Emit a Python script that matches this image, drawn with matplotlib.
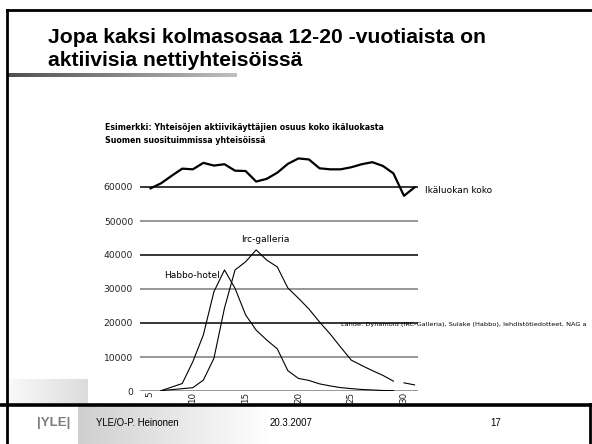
import numpy as np
import matplotlib
matplotlib.use("Agg")
import matplotlib.pyplot as plt
import matplotlib.transforms as mtransforms
from matplotlib.colors import LinearSegmentedColormap

# ages on the x axis
ages_pop = list(range(6, 32))
pop = [59600, 61100, 63300, 65400, 65200, 67100, 66300, 66700, 64800, 64700,
       61600, 62400, 64200, 66800, 68400, 68100, 65500, 65200, 65200, 65800,
       66700, 67300, 66200, 64000, 57400, 59900]

ages_habbo = [7, 9, 10, 11, 12, 13, 14, 15, 16, 17, 18, 19, 20, 21, 22, 23, 24, 25, 26, 27, 28, 29]
habbo = [100, 2200, 8600, 16500, 29200, 35600, 30200, 22400, 17900, 15000, 12400, 6000,
         3700, 3100, 2100, 1500, 1000, 700, 450, 300, 150, 100]

ages_irc = [7, 10, 11, 12, 13, 14, 15, 16, 17, 18, 19, 20, 21, 22, 23, 24, 25, 26, 27, 28, 29]
irc = [100, 970, 3200, 9600, 24400, 35600, 38000, 41500, 38500, 36500, 30300, 27300,
       24100, 20300, 16800, 12900, 9100, 7500, 6000, 4600, 2900]

ages_tail = [30, 31]
tail = [2400, 1800]

yticks = [0, 10000, 20000, 30000, 40000, 50000, 60000]
xticks = [5, 10, 15, 20, 25, 30]

W, H = 592, 444
fig = plt.figure(figsize=(W / 100, H / 100), dpi=100)

# background layer in pixel coordinates
bg = fig.add_axes([0, 0, 1, 1])
bg.set_xlim(0, W)
bg.set_ylim(H, 0)
bg.axis("off")

grad = np.linspace(0, 1, 256).reshape(1, -1)
# footer shading
grey_fade = LinearSegmentedColormap.from_list("fade", ["#cfcfcf", "#ffffff"])
bg.imshow(grad, cmap=grey_fade, extent=(78, 270, 444, 406), aspect="auto")
# faint shading at bottom-left above the footer line
left_fade = LinearSegmentedColormap.from_list("lf", ["#fafafa", "#dcdcdc"])
bg.imshow(grad, cmap=left_fade, extent=(8, 88, 403, 380), aspect="auto")
# gradient bar under the title
bar = LinearSegmentedColormap.from_list("bar", ["#505050", "#c0c0c0"])
bg.imshow(grad, cmap=bar, extent=(7, 237, 77, 73), aspect="auto")

# frame
bg.plot([7, 7], [10, 444], color="black", lw=2)
bg.plot([7, W], [10, 10], color="black", lw=2)
bg.plot([0, W], [404.5, 404.5], color="black", lw=2.6)
bg.plot([590, 590], [404, 444], color="black", lw=2)

# title
bg.text(48, 43, "Jopa kaksi kolmasosaa 12-20 -vuotiaista on", fontsize=15.2,
        fontweight="bold", family="Liberation Sans", va="baseline", ha="left")
bg.text(48, 66.5, "aktiivisia nettiyhteisöissä", fontsize=15.2,
        fontweight="bold", family="Liberation Sans", va="baseline", ha="left")

# chart subtitle
bg.text(105, 127, "Esimerkki: Yhteisöjen aktiivikäyttäjien osuus koko ikäluokasta",
        fontsize=5.65, fontweight="bold", va="center", ha="left")
bg.text(105, 140, "Suomen suosituimmissa yhteisöissä",
        fontsize=5.65, fontweight="bold", va="center", ha="left")

# footer
bg.text(54, 423, "|YLE|", fontsize=9.5, fontweight="bold", color="#7d7d7d",
        family="Liberation Sans", va="center", ha="center")
bg.text(96, 423, "YLE/O-P. Heinonen", fontsize=6.9, family="Liberation Sans",
        va="center", ha="left")
bg.text(270, 423, "20.3.2007", fontsize=6.9, family="Liberation Sans",
        va="center", ha="left")
bg.text(490, 423, "17", fontsize=6.9, family="Liberation Sans",
        va="center", ha="left")

# chart axes: pixel mapping x = 136.3 + (age-5)*10.7, y0 = 391, 60000 at 187
px_per_age = 10.7
x_left, x_right = 140, 418
age_left = 5 + (x_left - 136.3) / px_per_age
age_right = 5 + (x_right - 136.3) / px_per_age
y_bottom, y_top = 391, 150
val_per_px = 60000 / (391 - 187)
ax = fig.add_axes([x_left / W, (H - y_bottom) / H, (x_right - x_left) / W, (y_bottom - y_top) / H])
ax.set_xlim(age_left, age_right)
ax.set_ylim(0, (y_bottom - y_top) * val_per_px)
ax.patch.set_alpha(0)
for s in ax.spines.values():
    s.set_visible(False)

for i, v in enumerate(yticks):
    col = "black" if i % 2 == 0 and v > 0 else "#7a7a7a"
    ax.axhline(v, color=col, lw=1.1, zorder=1)

ax.plot(ages_pop, pop, color="black", lw=1.6, zorder=3)
ax.plot(ages_habbo, habbo, color="black", lw=0.8, zorder=3)
ax.plot(ages_irc, irc, color="black", lw=0.8, zorder=3)
ax.plot(ages_tail, tail, color="black", lw=0.8, zorder=3)

ax.set_yticks(yticks)
ax.set_yticklabels([str(v) for v in yticks], fontsize=6.6, color="#222222")
ax.set_xticks(xticks)
ax.set_xticklabels([str(v) for v in xticks], fontsize=6.3, rotation=90, color="#222222")
ax.tick_params(axis="y", length=0, pad=5)
ax.tick_params(axis="x", length=0, pad=0.5)
# the first age label sits a little to the right in the original
first = ax.get_xticklabels()[0]
first.set_transform(first.get_transform() + mtransforms.ScaledTranslation(10 / 100, 0, fig.dpi_scale_trans))

ax.text(16.84, 44700, "Irc-galleria", fontsize=6.5, ha="center", va="center")
ax.text(9.93, 34100, "Habbo-hotel", fontsize=6.5, ha="center", va="center")
ax.text(31.95, 59100, "Ikäluokan koko", fontsize=6.5, ha="left", va="center", clip_on=False)
ax.text(24.05, 19700, "Lähde: Dynamoid (IRC-Galleria), Sulake (Habbo), lehdistötiedotteet, NAG a",
        fontsize=4.65, ha="left", va="center", clip_on=False)

fig.savefig("out.png", dpi=100)
